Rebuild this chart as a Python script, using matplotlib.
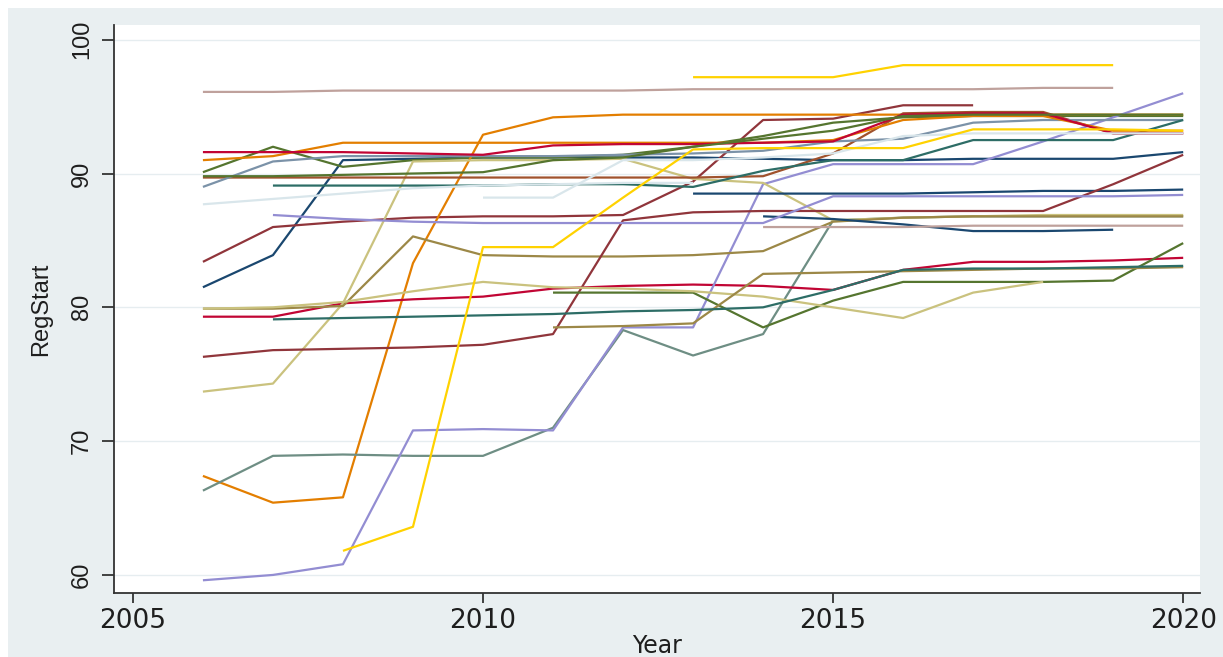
import numpy as np
import matplotlib
matplotlib.use("Agg")
import matplotlib.pyplot as plt
from matplotlib.patches import Rectangle

nan = np.nan
years = list(range(2006, 2021))

# RegStart by panel unit, 2006-2020 (nan = not observed)
u01 = [81.5, 83.9, 91.0, 91.1, 91.2, 91.2, 91.2, 91.2, 91.1, 91.0, 91.0, 91.1, 91.1, 91.1, 91.6]
u02 = [83.4, 86.0, 86.4, 86.7, 86.8, 86.8, 86.9, 89.4, 94.0, 94.1, 95.1, 95.1, nan, nan, nan]
u03 = [90.1, 92.0, 90.5, 91.0, 91.2, 91.2, 91.4, 92.0, 92.8, 93.8, 94.2, 94.3, 94.3, 94.3, 94.3]
u04 = [67.4, 65.4, 65.8, 83.3, 92.9, 94.2, 94.4, 94.4, 94.4, 94.4, 94.4, 94.4, 94.4, 94.4, 94.4]
u05 = [66.3, 68.9, 69.0, 68.9, 68.9, 71.0, 78.3, 76.4, 78.0, 86.5, 86.7, 86.8, 86.8, 86.8, 86.8]
u06 = [79.3, 79.3, 80.3, 80.6, 80.8, 81.4, 81.6, 81.7, 81.6, 81.3, 82.8, 83.4, 83.4, 83.5, 83.7]
u07 = [59.6, 60.0, 60.8, 70.8, 70.9, 70.8, 78.5, 78.5, 89.2, 90.7, 90.7, 90.7, 92.4, 94.2, 96.0]
u08 = [73.7, 74.3, 80.3, 90.9, 91.0, 91.0, 91.1, 89.6, 89.3, 86.5, 86.7, 86.8, 86.9, 86.9, 86.9]
u09 = [89.7, 89.7, 89.7, 89.7, 89.7, 89.7, 89.7, 89.7, 89.8, 91.5, 94.5, 94.6, 94.6, 93.0, 93.0]
u10 = [89.0, 90.9, 91.3, 91.3, 91.3, 91.3, 91.4, 91.5, 91.7, 92.4, 92.6, 93.8, 94.0, 94.0, 94.0]
u11 = [nan, 89.1, 89.1, 89.1, 89.1, 89.2, 89.2, 89.0, 90.2, 91.0, 91.0, 92.5, 92.5, 92.5, 94.0]
u12 = [79.9, 79.9, 80.1, 85.3, 83.9, 83.8, 83.8, 83.9, 84.2, 86.4, 86.7, 86.8, 86.8, 86.8, 86.8]
u13 = [96.1, 96.1, 96.2, 96.2, 96.2, 96.2, 96.2, 96.3, 96.3, 96.3, 96.3, 96.3, 96.4, 96.4, nan]
u14 = [nan, nan, nan, nan, nan, nan, nan, 97.2, 97.2, 97.2, 98.1, 98.1, 98.1, 98.1, nan]
u15 = [87.7, 88.1, 88.5, 88.9, 89.1, 89.2, 89.3, 89.3, nan, nan, nan, nan, nan, nan, nan]
u16 = [nan, nan, nan, nan, nan, nan, nan, 88.5, 88.5, 88.5, 88.5, 88.6, 88.7, 88.7, 88.8]
u17 = [76.3, 76.8, 76.9, 77.0, 77.2, 78.0, 86.5, 87.1, 87.2, 87.2, 87.2, 87.2, 87.2, 89.2, 91.4]
u18 = [nan, nan, nan, nan, nan, 81.1, 81.1, 81.1, 78.5, 80.5, 81.9, 81.9, 81.9, 82.0, 84.8]
u19 = [91.0, 91.3, 92.3, 92.3, 92.3, 92.3, 92.3, 92.3, 92.3, 92.5, 94.0, 94.3, 94.3, 93.2, 93.2]
u20 = [nan, nan, nan, nan, nan, nan, nan, nan, 86.8, 86.6, 86.2, 85.7, 85.7, 85.8, nan]
u21 = [91.6, 91.6, 91.6, 91.5, 91.4, 92.1, 92.2, 92.2, 92.3, 92.4, 94.4, 94.5, 94.5, 93.0, 93.0]
u22 = [nan, 86.9, 86.6, 86.4, 86.3, 86.3, 86.3, 86.3, 86.3, 88.3, 88.3, 88.3, 88.3, 88.3, 88.4]
u23 = [79.9, 80.0, 80.4, 81.2, 81.9, 81.5, 81.4, 81.2, 80.8, 80.0, 79.2, 81.1, 81.9, nan, nan]
u24 = [nan, nan, nan, nan, nan, 78.5, 78.6, 78.8, 82.5, 82.6, 82.7, 82.8, 82.9, 82.9, 83.0]
u25 = [nan, nan, nan, nan, 88.2, 88.2, 91.0, 91.0, 91.2, 91.5, 92.8, 93.0, 93.0, 93.0, 93.0]
u26 = [nan, 79.1, 79.2, 79.3, 79.4, 79.5, 79.7, 79.8, 80.0, 81.3, 82.8, 82.9, 82.9, 83.0, 83.1]
u27 = [nan, nan, nan, nan, nan, nan, nan, nan, 86.0, 86.0, 86.0, 86.1, 86.1, 86.1, 86.1]
u28 = [nan, nan, 61.8, 63.6, 84.5, 84.5, 88.2, 91.8, 91.9, 91.9, 91.9, 93.3, 93.3, 93.3, 93.2]
u29 = [89.8, 89.8, 89.9, 90.0, 90.1, 91.0, 91.2, 92.0, 92.6, 93.2, 94.3, 94.4, 94.4, 94.4, 94.4]

units = [u01, u02, u03, u04, u05, u06, u07, u08, u09, u10, u11, u12, u13, u14, u15,
         u16, u17, u18, u19, u20, u21, u22, u23, u24, u25, u26, u27, u28, u29]

# Stata s2color palette
palette = {
    "navy": "#1a476f", "maroon": "#90353b", "forest_green": "#55752f",
    "dkorange": "#e37e00", "teal": "#6e8e84", "cranberry": "#c10534",
    "lavender": "#938dd2", "khaki": "#cac27e", "sienna": "#a0522d",
    "emidblue": "#7b92a8", "emerald": "#2d6d66", "brown": "#9c8847",
    "erose": "#bfa19c", "gold": "#ffd200", "bluishgray": "#d9e6eb",
}
line_colors = ["navy", "maroon", "forest_green", "dkorange", "teal", "cranberry",
               "lavender", "khaki", "sienna", "emidblue", "emerald", "brown",
               "erose", "gold", "bluishgray",
               "navy", "maroon", "forest_green", "dkorange", "navy", "cranberry",
               "lavender", "khaki", "brown", "bluishgray", "emerald", "erose",
               "gold", "forest_green"]

W, H = 1223, 657
fig = plt.figure(figsize=(W / 100, H / 100), dpi=100, facecolor="white")
# graph region (behind the plot region)
fig.patches.append(Rectangle((8 / W, 0), 1 - 8 / W, 1 - 8 / H,
                             transform=fig.transFigure, facecolor="#e9eff1",
                             edgecolor="none", zorder=-10))

ax = fig.add_axes([114 / W, 64 / H, 1086 / W, 568 / H])
ax.set_zorder(1)
ax.set_facecolor("white")

for vals, cname in zip(units, line_colors):
    ax.plot(years, vals, color=palette[cname], lw=1.6, solid_joinstyle="round",
            solid_capstyle="butt", zorder=3)

ax.set_xlim(2004.73, 2020.24)
ax.set_ylim(58.65, 101.1)
ax.set_xticks([2005, 2010, 2015, 2020])
ax.set_yticks([60, 70, 80, 90, 100])

ax.grid(axis="y", color="#e6edf0", lw=1.0, zorder=1)
ax.grid(axis="x", visible=False)

for s in ("top", "right"):
    ax.spines[s].set_visible(False)
for s in ("left", "bottom"):
    ax.spines[s].set_color("#333333")
    ax.spines[s].set_linewidth(1.3)

ax.tick_params(axis="x", direction="out", length=7, width=1.3, color="#333333",
               pad=4, labelsize=19, labelcolor="#1e1e1e")
ax.tick_params(axis="y", direction="out", length=9, width=1.3, color="#333333",
               pad=6, labelcolor="#1e1e1e")
for lab in ax.get_xticklabels():
    lab.set_family("DejaVu Sans")
for lab in ax.get_yticklabels():
    lab.set_family("Liberation Sans")
    lab.set_fontsize(17)
    lab.set_rotation(90)
    lab.set_va("center")

ax.set_xlabel("Year", family="DejaVu Sans", fontsize=17, color="#1e1e1e", labelpad=0)
ax.set_ylabel("RegStart", family="Liberation Sans", fontsize=17, color="#1e1e1e", labelpad=14)

fig.savefig("out.png", dpi=100, facecolor=fig.get_facecolor())
